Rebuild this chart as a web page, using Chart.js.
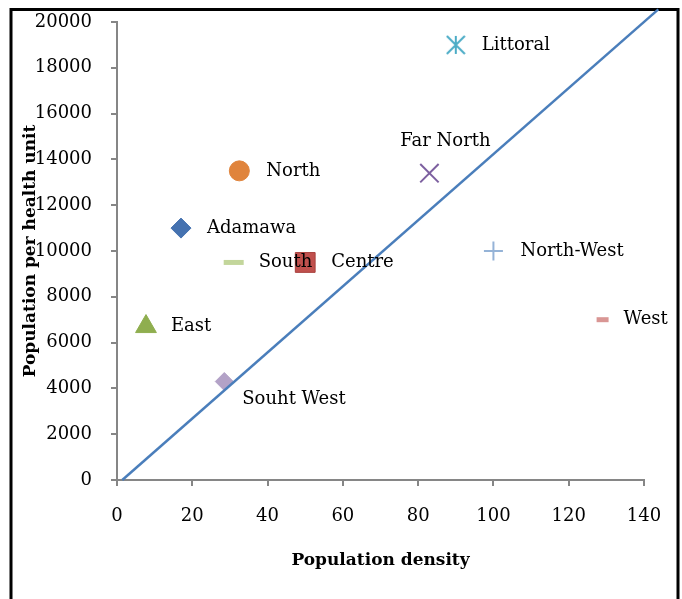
<!DOCTYPE html>
<html>
<head>
<meta charset="utf-8">
<script src="https://cdn.jsdelivr.net/npm/chart.js@4.4.0/dist/chart.umd.min.js"></script>
<style>
  body { margin: 0; background: #fff; }
  canvas { display: block; }
</style>
</head>
<body>
<canvas id="densityChart" width="682" height="599"></canvas>
<script>
// Regions of Cameroon: population density vs population per health unit
const regions = ['Adamawa', 'Centre', 'East', 'Far North', 'Littoral', 'North', 'North-West', 'South', 'Souht West', 'West'];
const density = [17, 50, 7.7, 83, 90, 32.5, 100, 31, 28.5, 129];
const popPerUnit = [11000, 9500, 6700, 13400, 19000, 13500, 10000, 9500, 4300, 7000];

// reference line
const refLineX = [1.4, 143.8];
const refLineY = [0, 20550];

// axis ticks
const xTicks = [0, 20, 40, 60, 80, 100, 120, 140];
const yTicks = [0, 2000, 4000, 6000, 8000, 10000, 12000, 14000, 16000, 18000, 20000];

const FONT = '"DejaVu Serif", serif';
const AXIS_GREY = '#868686';

function asterisk(color, size) {
  const c = document.createElement('canvas');
  c.width = c.height = size;
  const g = c.getContext('2d');
  g.strokeStyle = color;
  g.lineWidth = 2;
  const m = size / 2, r = size / 2 - 1;
  g.beginPath();
  g.moveTo(m, m - r); g.lineTo(m, m + r);
  g.moveTo(m - r, m - r); g.lineTo(m + r, m + r);
  g.moveTo(m + r, m - r); g.lineTo(m - r, m + r);
  g.stroke();
  return c;
}

// marker look and where each label sits relative to its marker
const markerStyles = {
  'Adamawa':    { shape: 'rectRot', r: 10, color: '#4572b0', dx: 26, dy: 0 },
  'Centre':     { shape: 'rect', r: 14, color: '#c0504d', border: '#a8403d', dx: 26, dy: 0 },
  'East':       { shape: 'triangle', r: 12, color: '#8fae4f', dx: 25, dy: 0 },
  'Far North':  { shape: 'crossRot', r: 13, color: '#7d60a0', line: 2, dx: 16, dy: -32, align: 'center' },
  'Littoral':   { shape: asterisk('#4bacc6', 20), r: 10, color: '#4bacc6', dx: 26, dy: 0 },
  'North':      { shape: 'circle', r: 10, color: '#e0843c', dx: 27, dy: 0 },
  'North-West': { shape: 'cross', r: 9.5, color: '#95b3d7', line: 2, dx: 27, dy: 0 },
  'South':      { shape: 'line', r: 10, color: '#c3d69b', line: 5, dx: 25, dy: 0 },
  'Souht West': { shape: 'rectRot', r: 9, color: '#b3a2c7', dx: 18, dy: 18 },
  'West':       { shape: 'line', r: 6, color: '#d99694', line: 5, dx: 21, dy: 0 }
};

const datasets = [{
  label: 'Reference',
  data: refLineX.map((x, i) => ({ x: x, y: refLineY[i] })),
  showLine: true,
  pointRadius: 0,
  borderColor: '#4a7ebb',
  borderWidth: 2.5,
  clip: false
}];

regions.forEach((name, i) => {
  const s = markerStyles[name];
  datasets.push({
    label: name,
    data: [{ x: density[i], y: popPerUnit[i] }],
    pointStyle: s.shape,
    pointRadius: s.r,
    pointBackgroundColor: s.color,
    pointBorderColor: s.border || s.color,
    pointBorderWidth: s.line || 1,
    clip: false
  });
});

const frame = {
  id: 'frame',
  beforeDraw(chart) {
    const ctx = chart.ctx;
    ctx.save();
    ctx.fillStyle = '#fff';
    ctx.fillRect(0, 0, chart.width, chart.height);
    ctx.strokeStyle = '#000';
    ctx.lineWidth = 3;
    ctx.beginPath();
    ctx.moveTo(11, chart.height + 5);
    ctx.lineTo(11, 9.5);
    ctx.lineTo(678, 9.5);
    ctx.lineTo(678, chart.height + 5);
    ctx.stroke();
    ctx.restore();
  }
};

const pointLabels = {
  id: 'pointLabels',
  afterDatasetsDraw(chart) {
    const ctx = chart.ctx;
    ctx.save();
    ctx.font = '18px ' + FONT;
    ctx.fillStyle = '#000';
    ctx.textBaseline = 'middle';
    regions.forEach((name, i) => {
      const pt = chart.getDatasetMeta(i + 1).data[0];
      const s = markerStyles[name];
      ctx.textAlign = s.align || 'left';
      ctx.fillText(name, pt.x + s.dx, pt.y + s.dy);
    });
    ctx.restore();
  }
};

new Chart(document.getElementById('densityChart').getContext('2d'), {
  type: 'scatter',
  data: { datasets: datasets },
  options: {
    responsive: false,
    animation: false,
    layout: { padding: { left: 14, top: 22, right: 38, bottom: 20 } },
    plugins: {
      legend: { display: false },
      tooltip: { enabled: false }
    },
    scales: {
      x: {
        type: 'linear',
        min: xTicks[0],
        max: xTicks[xTicks.length - 1],
        afterBuildTicks: scale => { scale.ticks = xTicks.map(v => ({ value: v })); },
        ticks: { padding: 20, color: '#000', font: { family: FONT, size: 18 }, callback: v => String(v) },
        grid: { drawOnChartArea: false, tickLength: 6, color: AXIS_GREY, lineWidth: 2 },
        border: { color: AXIS_GREY, width: 2 },
        title: {
          display: true,
          text: 'Population density',
          color: '#000',
          font: { family: FONT, size: 17, weight: 'bold' },
          padding: { top: 0, bottom: 8 }
        },
        afterFit: scale => {
          scale.height = 99;
          scale.paddingLeft = 0;
          scale.paddingRight = 0;
        }
      },
      y: {
        type: 'linear',
        min: yTicks[0],
        max: yTicks[yTicks.length - 1],
        afterBuildTicks: scale => { scale.ticks = yTicks.map(v => ({ value: v })); },
        ticks: { padding: 19, color: '#000', font: { family: FONT, size: 18 }, callback: v => String(v) },
        grid: { drawOnChartArea: false, tickLength: 6, color: AXIS_GREY, lineWidth: 2 },
        border: { color: AXIS_GREY, width: 2 },
        title: {
          display: true,
          text: 'Population per health unit',
          color: '#000',
          font: { family: FONT, size: 17, weight: 'bold' },
          padding: { top: 6, bottom: 0 }
        },
        afterFit: scale => {
          scale.width = 103;
          scale.paddingTop = 0;
          scale.paddingBottom = 0;
        }
      }
    }
  },
  plugins: [frame, pointLabels]
});
</script>
</body>
</html>
